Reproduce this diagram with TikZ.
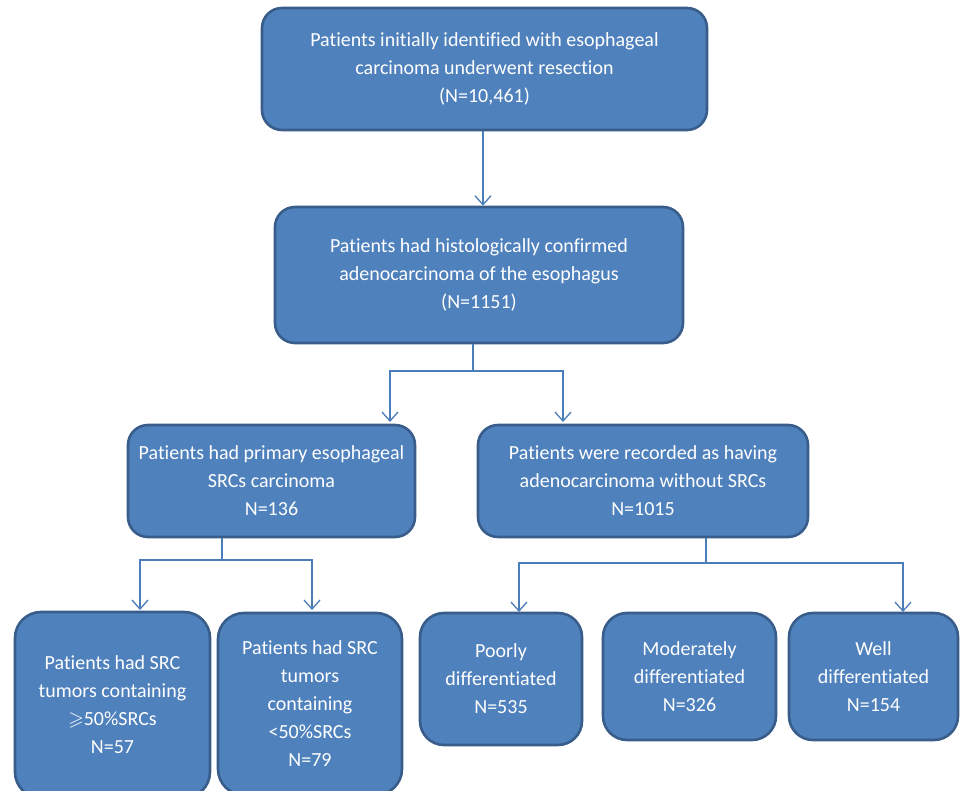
\documentclass[tikz,border=0pt]{standalone}
\usepackage{fontspec}
\usepackage{amssymb}
\setmainfont{Carlito}[RawFeature=-liga]
\usetikzlibrary{arrows.meta}
\definecolor{boxfill}{HTML}{4F81BD}
\definecolor{boxline}{HTML}{385D8A}
\definecolor{conncol}{HTML}{4A7EBB}
\tikzset{
  box/.style={draw=boxline, fill=boxfill, line width=2.6pt, rounded corners=20pt,
    text=white, align=center, font=\fontsize{20}{28}\selectfont, inner sep=0pt},
  conn/.style={draw=conncol, line width=1.4pt},
  arr/.style={conn, -{Straight Barb[length=9pt,width=16pt,line width=1.3pt]}}
}
\begin{document}
\begin{tikzpicture}[x=1pt,y=-1pt]
\fill[white] (0,0) rectangle (963,791);
\useasboundingbox (0,0) rectangle (963,791);
\clip (0,0) rectangle (963,791);
% boxes
\node[box, minimum width=445pt, minimum height=122pt] (b1) at (484.5,69)
  {Patients initially identified with esophageal\\carcinoma underwent resection\\(N=10,461)};
\node[box, minimum width=408pt, minimum height=136pt] (b2) at (479,275)
  {Patients had histologically confirmed\\adenocarcinoma of the esophagus\\(N=1151)};
\node[box, minimum width=287pt, minimum height=112pt] (b3) at (271.5,481)
  {Patients had primary esophageal\\SRCs carcinoma\\N=136};
\node[box, minimum width=330pt, minimum height=112pt] (b4) at (643,481)
  {Patients were recorded as having\\adenocarcinoma without SRCs\\N=1015};
\node[box, rounded corners=26pt, minimum width=195pt, minimum height=186pt] (b5) at (112.5,705)
  {Patients had SRC\\tumors containing\\$\geqslant$50\%SRCs\\N=57};
\node[box, rounded corners=26pt, minimum width=184pt, minimum height=182pt] (b6) at (310,704)
  {Patients had SRC\\tumors\\containing\\<50\%SRCs\\N=79};
\node[box, rounded corners=24pt, minimum width=162pt, minimum height=132pt] (b7) at (501,679)
  {Poorly\\differentiated\\N=535};
\node[box, rounded corners=24pt, minimum width=173pt, minimum height=127pt] (b8) at (689.5,676.5)
  {Moderately\\differentiated\\N=326};
\node[box, rounded corners=24pt, minimum width=169pt, minimum height=127pt] (b9) at (873.5,676.5)
  {Well\\differentiated\\N=154};
% junction coordinates
\coordinate (a2) at (483,0);
\coordinate (j1) at (473,371);
\coordinate (a3) at (390,422);
\coordinate (a4) at (563,422);
\coordinate (j2) at (222,560);
\coordinate (a5) at (140,610);
\coordinate (a6) at (312,610);
\coordinate (j3) at (706,563);
\coordinate (a7) at (519,612);
\coordinate (a9) at (903,612);
% connectors
\draw[arr] (b1.south -| a2) -- (b2.north -| a2);
\draw[conn] (b2.south -| j1) -- (j1);
\draw[arr] (j1) -| (a3);
\draw[arr] (j1) -| (a4);
\draw[conn] (b3.south -| j2) -- (j2);
\draw[arr] (j2) -| (a5);
\draw[arr] (j2) -| (a6);
\draw[conn] (b4.south -| j3) -- (j3);
\draw[arr] (j3) -| (a7);
\draw[arr] (j3) -| (a9);
\end{tikzpicture}
\end{document}
